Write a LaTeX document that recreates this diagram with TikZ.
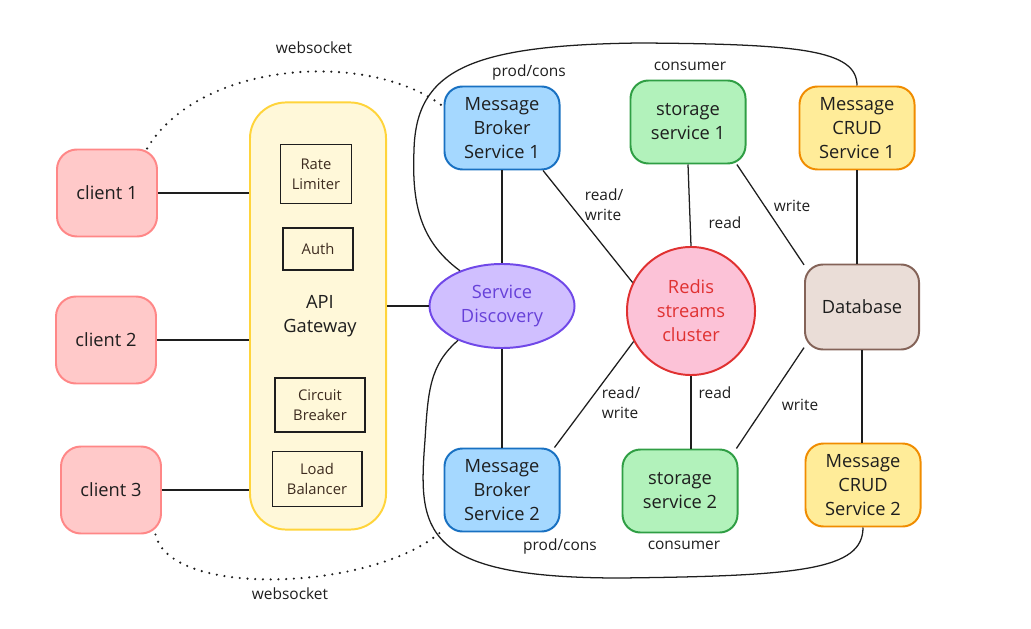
\documentclass[tikz,border=0pt]{standalone}
\usepackage{fontspec}
\setmainfont{Open Sans}
\usetikzlibrary{positioning,shapes.geometric}

\definecolor{clientfill}{HTML}{FFC9C9}
\definecolor{clientdraw}{HTML}{FF8787}
\definecolor{gatefill}{HTML}{FFF8D9}
\definecolor{gatedraw}{HTML}{FFD43B}
\definecolor{discfill}{HTML}{D0BFFF}
\definecolor{discdraw}{HTML}{7048E8}
\definecolor{disctext}{HTML}{6741D9}
\definecolor{brokerfill}{HTML}{A5D8FF}
\definecolor{brokerdraw}{HTML}{1971C2}
\definecolor{storefill}{HTML}{B2F2BB}
\definecolor{storedraw}{HTML}{2F9E44}
\definecolor{crudfill}{HTML}{FFEC99}
\definecolor{cruddraw}{HTML}{F08C00}
\definecolor{redisfill}{HTML}{FCC2D7}
\definecolor{redisdraw}{HTML}{E03131}
\definecolor{dbfill}{HTML}{EADDD7}
\definecolor{dbdraw}{HTML}{846358}
\definecolor{inktext}{HTML}{1E1E1E}
\definecolor{parttext}{HTML}{3D2B1F}

\begin{document}
\begin{tikzpicture}[x=0.025cm, y=-0.025cm,
            font=\fontsize{13}{17}\selectfont, text=inktext,
            svcbox/.style={rectangle, rounded corners=0.45cm, line width=1.4pt, minimum width=2.875cm, minimum height=2.075cm, align=center, inner sep=2pt},
            clientnode/.style={rectangle, rounded corners=0.5cm, draw=clientdraw, fill=clientfill, line width=1.4pt, minimum width=2.5cm, minimum height=2.175cm},
            gatenode/.style={rectangle, rounded corners=0.9cm, draw=gatedraw, fill=gatefill, line width=1.4pt, minimum width=3.4cm, minimum height=10.675cm},
            partnode/.style={rectangle, draw=inktext, line width=1.4pt, text=parttext, align=center, font=\fontsize{10.5}{14}\selectfont, inner sep=1pt},
            discnode/.style={ellipse, draw=discdraw, fill=discfill, text=disctext, line width=1.4pt, minimum width=3.625cm, minimum height=2.1cm, align=center, inner sep=0pt},
            brokernode/.style={svcbox, draw=brokerdraw, fill=brokerfill},
            storenode/.style={svcbox, draw=storedraw, fill=storefill},
            crudnode/.style={svcbox, draw=cruddraw, fill=crudfill},
            redisnode/.style={circle, draw=redisdraw, fill=redisfill, text=redisdraw, line width=1.4pt, minimum size=3.2cm, align=center, inner sep=0pt},
            dbnode/.style={svcbox, draw=dbdraw, fill=dbfill, minimum width=2.85cm, minimum height=2.125cm},
            link/.style={line width=0.9pt, draw=inktext},
            wslink/.style={line width=1.7pt, draw=inktext, dash pattern=on 0pt off 5.5pt, line cap=round},
            lbl/.style={font=\fontsize{11}{14}\selectfont, align=left},
        ]
            \useasboundingbox (0,0) rectangle (1031,629);

            %Nodes
            \node[clientnode](c1) at (107,193) {client 1};
            \node[clientnode](c2) at (106,340) {client 2};
            \node[clientnode](c3) at (111,490) {client 3};

            \node[gatenode](gw) at (318,316) {};
            \node[align=center](gwname) at (320,316) {API\\Gateway};
            \node[partnode, minimum width=1.775cm, minimum height=1.475cm](rate) at (316,174) {Rate\\Limiter};
            \node[partnode, minimum width=1.75cm, minimum height=1.05cm](auth) at (318,249) {Auth};
            \node[partnode, minimum width=2.25cm, minimum height=1.35cm](breaker) at (320,405) {Circuit\\Breaker};
            \node[partnode, minimum width=2.225cm, minimum height=1.375cm](balancer) at (317,479) {Load\\Balancer};

            \node[discnode](sd) at (502,306) {Service\\Discovery};
            \node[brokernode](mb1) at (502,128) {Message\\Broker\\Service 1};
            \node[brokernode](mb2) at (502,490) {Message\\Broker\\Service 2};
            \node[storenode](ss1) at (688,122) {storage\\service 1};
            \node[storenode](ss2) at (680,491) {storage\\service 2};
            \node[crudnode](crud1) at (857,128) {Message\\CRUD\\Service 1};
            \node[crudnode](crud2) at (863,485) {Message\\CRUD\\Service 2};
            \node[redisnode](redis) at (691,311) {Redis\\streams\\cluster};
            \node[dbnode](db) at (862,307) {Database};

            %Labels
            \node[lbl](ws1) at (314,48) {websocket};
            \node[lbl](ws2) at (290,594) {websocket};
            \node[lbl](pc1) at (529,72) {prod/cons};
            \node[lbl](pc2) at (560,546) {prod/cons};
            \node[lbl](cons1) at (690,66) {consumer};
            \node[lbl](cons2) at (684,545) {consumer};
            \node[lbl](rw1) at (604,205) {read/\\write};
            \node[lbl](rw2) at (621,403) {read/\\write};
            \node[lbl](rd1) at (725,223) {read};
            \node[lbl](rd2) at (715,393) {read};
            \node[lbl](wr1) at (792,206) {write};
            \node[lbl](wr2) at (800,405) {write};

            %Lines
            \draw[link] (c1.east) -- (c1.east -| gw.west);
            \draw[link] (c2.east) -- (c2.east -| gw.west);
            \draw[link] (c3.east) -- (c3.east -| gw.west);
            \draw[link] (gw.east |- sd.west) -- (sd.west);
            \draw[link] (mb1.south) -- (sd.north);
            \draw[link] (sd.south) -- (mb2.north);
            \draw[link] (mb1.-46) -- (redis.154);
            \draw[link] (mb2.39) -- (redis.208);
            \draw[link] (ss1.south) -- (redis.north);
            \draw[link] (redis.south) -- (redis.south |- ss2.north);
            \draw[link] (ss1.-41) -- (db.144);
            \draw[link] (ss2.37) -- (db.215);
            \draw[link] (crud1.south) -- (crud1.south |- db.north);
            \draw[link] (db.south) -- (db.south |- crud2.north);

            %Loop round the services
            \draw[link] (sd.140) .. controls (418,240) and (412,200) .. (414,150)
                .. controls (416,70) and (470,45) .. (640,43)
                .. controls (800,44) and (857,50) .. (crud1.north);
            \draw[link] (sd.218) .. controls (430,365) and (428,390) .. (425,440)
                .. controls (418,530) and (420,578) .. (620,578)
                .. controls (800,576) and (863,570) .. (crud2.south);

            %Websockets
            \draw[wslink] (c1.48) .. controls (200,60) and (370,50) .. (mb1.160);
            \draw[wslink] (c3.-45) .. controls (170,600) and (380,590) .. (mb2.214);
        \end{tikzpicture}
\end{document}
